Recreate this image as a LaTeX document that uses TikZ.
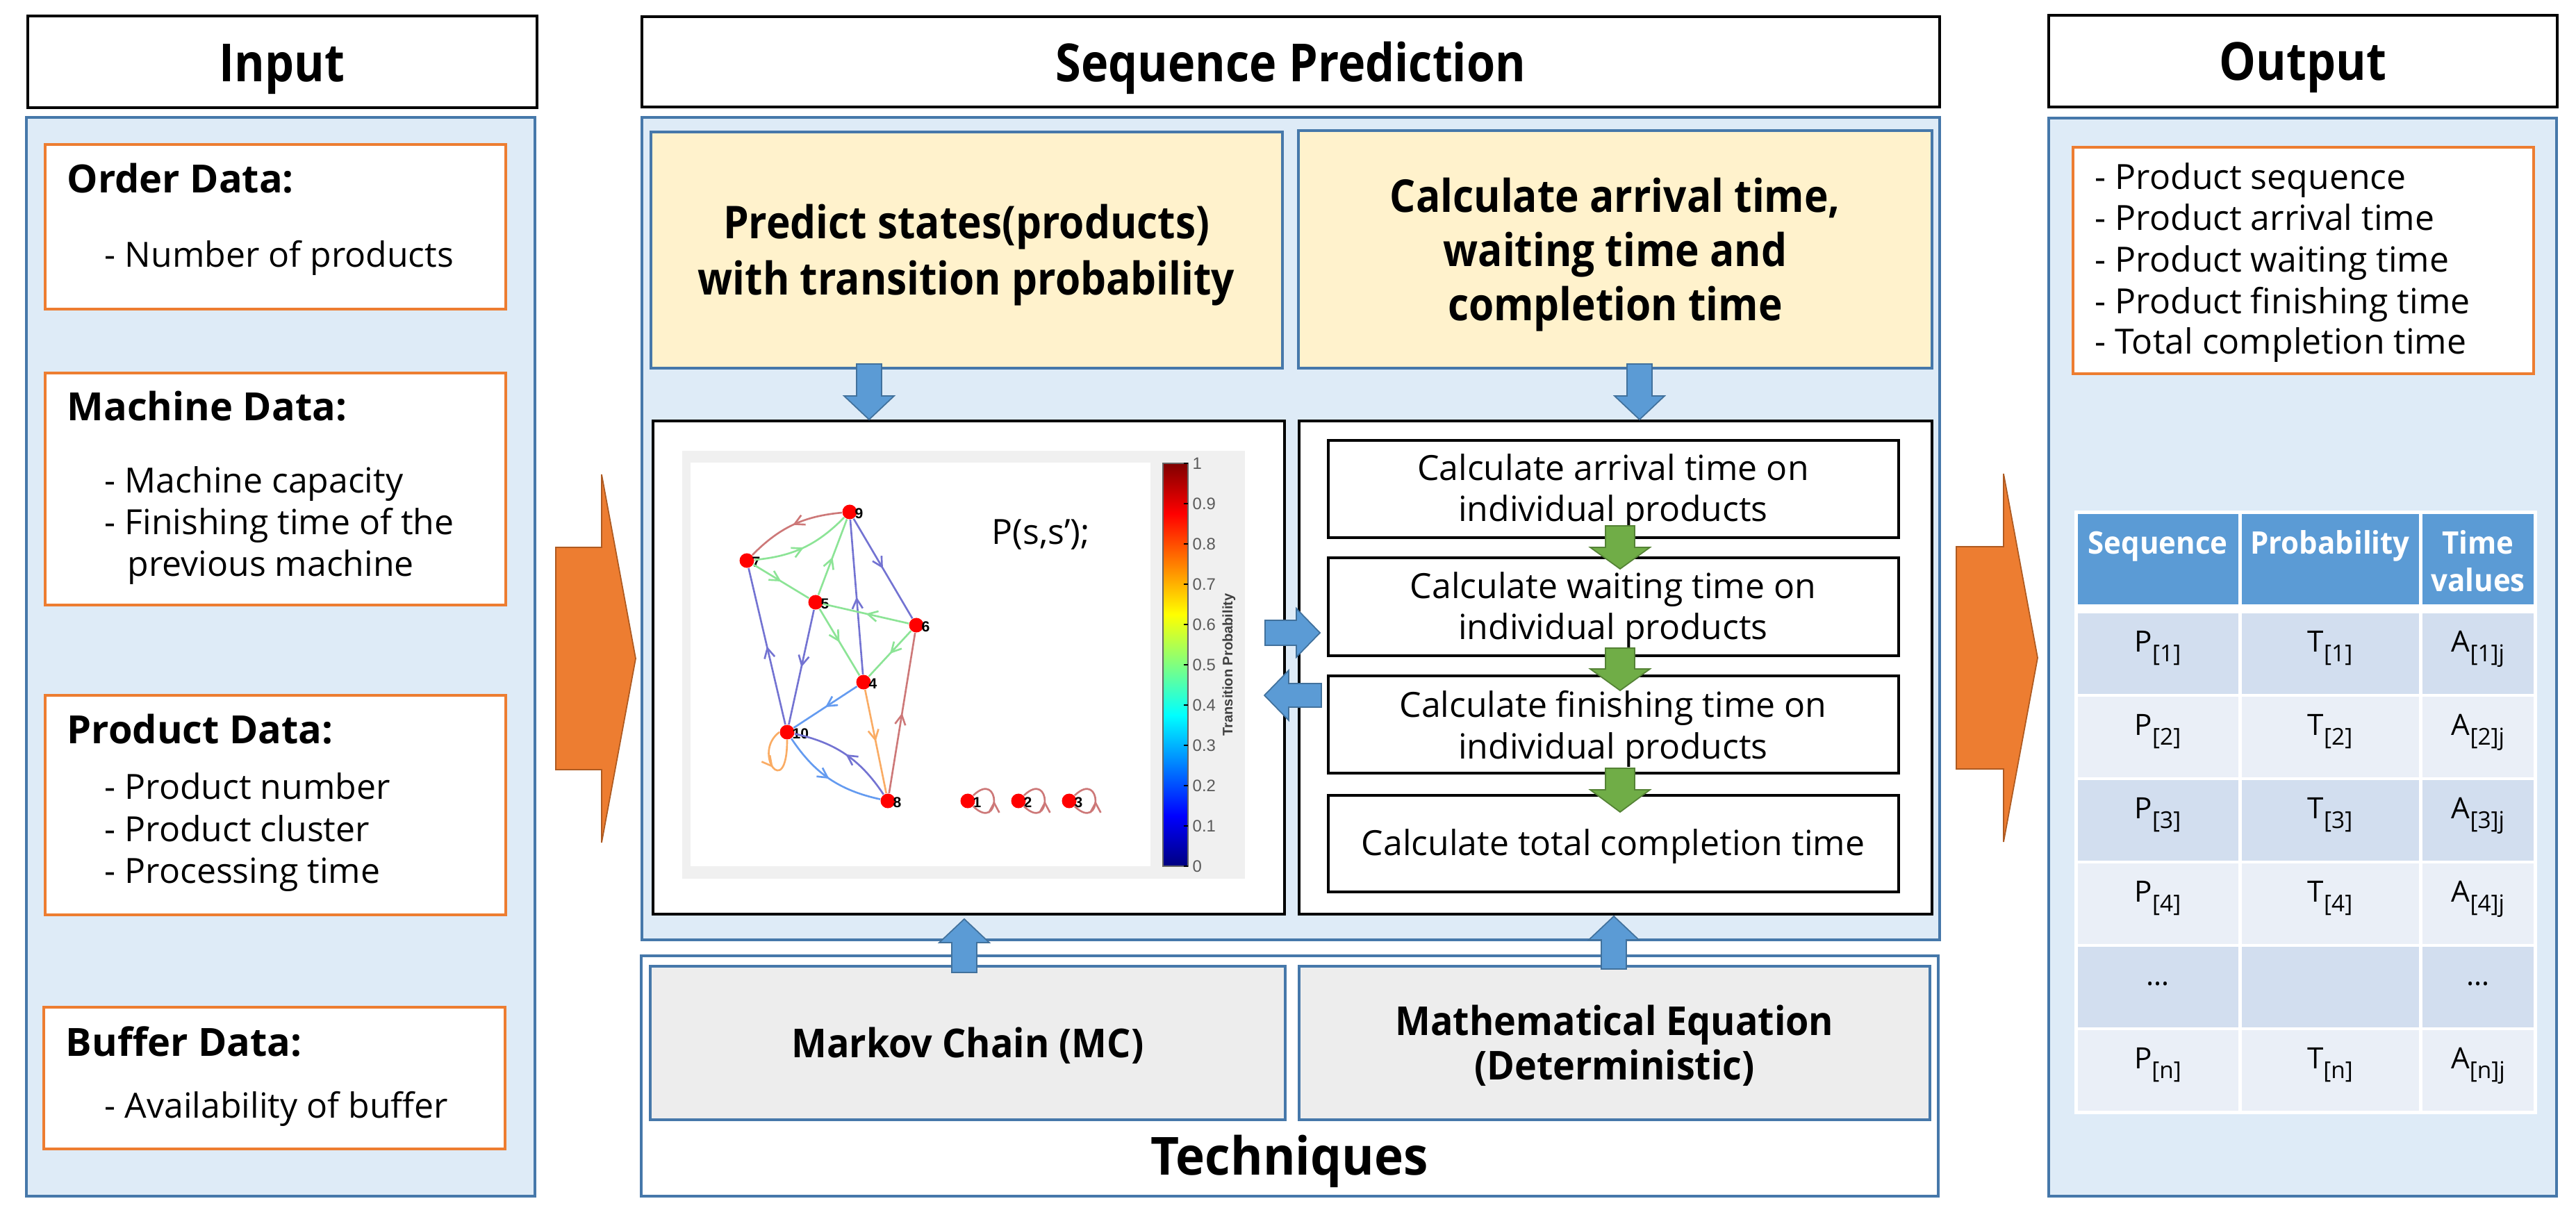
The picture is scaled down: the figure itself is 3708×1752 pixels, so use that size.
\documentclass[tikz,border=0pt]{standalone}
\usepackage{fontspec}
\setmainfont{Open Sans}
\newfontfamily\titlefont[FakeStretch=0.88]{Open Sans}
\newfontfamily\yellowfont[FakeStretch=0.9]{Open Sans}
\newfontfamily\techfont[FakeStretch=0.94]{Open Sans}
\newfontfamily\plotfont{Liberation Sans}
\usetikzlibrary{arrows.meta,decorations.markings}

\definecolor{panelfill}{RGB}{222,235,247}
\definecolor{panelline}{RGB}{70,120,170}
\definecolor{orangeline}{RGB}{237,125,49}
\definecolor{yellowfill}{RGB}{255,242,204}
\definecolor{greyfill}{RGB}{237,237,237}
\definecolor{bluearrow}{RGB}{91,155,213}
\definecolor{bluearrowline}{RGB}{65,113,156}
\definecolor{greenarrow}{RGB}{112,173,71}
\definecolor{greenarrowline}{RGB}{84,130,53}
\definecolor{orangearrow}{RGB}{237,125,49}
\definecolor{orangearrowline}{RGB}{174,90,33}
\definecolor{hdr}{RGB}{91,155,213}
\definecolor{rowdark}{RGB}{210,222,239}
\definecolor{rowlight}{RGB}{234,239,247}
\definecolor{plotgrey}{RGB}{240,240,240}
\definecolor{cbtext}{RGB}{90,90,90}
\definecolor{epurple}{RGB}{115,115,210}
\definecolor{eblue}{RGB}{100,155,240}
\definecolor{egreen}{RGB}{140,228,150}
\definecolor{eorange}{RGB}{250,172,100}
\definecolor{ered}{RGB}{205,120,120}

\pgfdeclareverticalshading{jetmap}{100bp}{rgb(0bp)=(0,0,0.5); rgb(25bp)=(0,0,0.5); rgb(31.25bp)=(0,0,1); rgb(43.75bp)=(0,1,1); rgb(56.25bp)=(1,1,0); rgb(68.75bp)=(1,0,0); rgb(75bp)=(0.5,0,0); rgb(100bp)=(0.5,0,0)}

% name, style, x1, y1, x2, y2 (pixel coords, y downward)
\newcommand{\boxat}[6]{\node[#2,inner sep=0pt,minimum width={(#5-#3)*0.01cm},minimum height={(#6-#4)*0.01cm}] (#1) at ({(#3+#5)/2},{-(#4+#6)/2}) {};}
% vertical block arrow: style, cx, half shaft, half head, tail y, head-base y, tip y
\newcommand{\varrowx}[7]{\draw[#1] ({#2-#3},{-#5}) -- ({#2+#3},{-#5}) -- ({#2+#3},{-#6}) -- ({#2+#4},{-#6}) -- (#2,{-#7}) -- ({#2-#4},{-#6}) -- ({#2-#3},{-#6}) -- cycle;}
% horizontal block arrow: style, cy, half shaft, half head, tail x, head-base x, tip x
\newcommand{\harrowx}[7]{\draw[#1] (#5,{-(#2-#3)}) -- (#6,{-(#2-#3)}) -- (#6,{-(#2-#4)}) -- (#7,{-#2}) -- (#6,{-(#2+#4)}) -- (#6,{-(#2+#3)}) -- (#5,{-(#2+#3)}) -- cycle;}
\newcommand{\tsub}[1]{\raisebox{-4.2pt}{\fontsize{9.5}{10}\selectfont #1}}

\tikzset{
 bluepanel/.style={draw=panelline, fill=panelfill, line width=0.9pt},
 wpanel/.style={draw=panelline, fill=white, line width=0.9pt},
 titlebox/.style={draw=black, fill=white, line width=1.1pt},
 obox/.style={draw=orangeline, fill=white, line width=0.9pt},
 ybox/.style={draw=panelline, fill=yellowfill, line width=0.9pt},
 kbox/.style={draw=black, fill=white, line width=1.1pt},
 kboxin/.style={draw=black, fill=white, line width=0.9pt},
 gbox/.style={draw=panelline, fill=greyfill, line width=0.9pt},
 bluearr/.style={fill=bluearrow, draw=bluearrowline, line width=0.5pt},
 greenarr/.style={fill=greenarrow, draw=greenarrowline, line width=0.5pt},
 bigorange/.style={fill=orangearrow, draw=orangearrowline, line width=0.5pt},
 titletext/.style={font=\titlefont\bfseries\fontsize{21.5}{26}\selectfont, anchor=base, inner sep=0pt},
 ytext/.style={font=\yellowfont\bfseries\fontsize{18.5}{22}\selectfont, anchor=base, inner sep=0pt},
 hdtext/.style={font=\bfseries\fontsize{15.9}{19}\selectfont, anchor=base west, inner sep=0pt},
 body/.style={font=\fontsize{14.2}{17}\selectfont, anchor=base west, inner sep=0pt},
 bodyc/.style={font=\fontsize{14.2}{17}\selectfont, anchor=base, inner sep=0pt},
 techtext/.style={font=\techfont\bfseries\fontsize{16.3}{20}\selectfont, anchor=base, inner sep=0pt},
 techtitle/.style={font=\techfont\bfseries\fontsize{21.5}{26}\selectfont, anchor=base, inner sep=0pt},
 hdrtext/.style={font=\techfont\bfseries\fontsize{12.7}{15}\selectfont, text=white, anchor=base, inner sep=0pt},
 celltext/.style={font=\fontsize{12}{14}\selectfont, anchor=base, inner sep=0pt},
 gnode/.style={circle, fill=red, inner sep=0pt, minimum size=0.21cm},
 glabel/.style={font=\plotfont\bfseries\fontsize{6}{6}\selectfont, anchor=west, inner sep=0pt},
 cblabel/.style={font=\plotfont\fontsize{6.8}{7}\selectfont, text=cbtext, anchor=west, inner sep=0pt},
 gedge/.style={line width=0.75pt, draw=#1, postaction={decorate},
   decoration={markings, mark=at position 0.5 with {\arrow{Straight Barb[length=1.4mm,width=1.5mm]}}}},
}

\begin{document}
\begin{tikzpicture}[x=0.01cm,y=0.01cm]
\useasboundingbox (0,0) rectangle (3708,-1752);
\fill[white] (0,0) rectangle (3708,-1752);

% ---------- panels ----------
\boxat{inpanel}{bluepanel}{38}{169}{770}{1722}
\boxat{seqpanel}{bluepanel}{924}{169}{2792}{1353}
\boxat{outpanel}{bluepanel}{2949}{170}{3680}{1722}
\boxat{techpanel}{wpanel}{923}{1376}{2790}{1722}

% ---------- title boxes ----------
\boxat{intitle}{titlebox}{40}{23}{773}{155}
\boxat{seqtitle}{titlebox}{924}{24}{2792}{154}
\boxat{outtitle}{titlebox}{2949}{22}{3681}{154}
\node[titletext] (intitletxt) at (406,-118) {Input};
\node[titletext] (seqtitletxt) at (1858,-118) {Sequence Prediction};
\node[titletext] (outtitletxt) at (3315,-116) {Output};

% ---------- input boxes ----------
\boxat{orderbox}{obox}{65}{208}{728}{445}
\boxat{machbox}{obox}{65}{537}{728}{871}
\boxat{prodbox}{obox}{65}{1001}{728}{1317}
\boxat{bufbox}{obox}{63}{1450}{727}{1654}
\node[hdtext] (tord) at (96,-278) {Order Data:};
\node[body] (tord1) at (150,-385) {- Number of products};
\node[hdtext] (tmach) at (96,-606) {Machine Data:};
\node[body] (tmach1) at (150,-709) {- Machine capacity};
\node[body] (tmach2) at (150,-769) {- Finishing time of the};
\node[body] (tmach3) at (183,-829) {previous machine};
\node[hdtext] (tprod) at (96,-1070) {Product Data:};
\node[body] (tprod1) at (150,-1150) {- Product number};
\node[body] (tprod2) at (150,-1211) {- Product cluster};
\node[body] (tprod3) at (150,-1271) {- Processing time};
\node[hdtext] (tbuf) at (94,-1520) {Buffer Data:};
\node[body] (tbuf1) at (150,-1609) {- Availability of buffer};

% ---------- sequence prediction ----------
\boxat{ybox1}{ybox}{937}{190}{1846}{530}
\boxat{ybox2}{ybox}{1869}{188}{2781}{530}
\node[ytext] (y1a) at (1391,-344) {Predict states(products)};
\node[ytext] (y1b) at (1391,-425) {with transition probability};
\node[ytext] (y2a) at (2325,-306) {Calculate arrival time,};
\node[ytext] (y2b) at (2325,-384) {waiting time and};
\node[ytext] (y2c) at (2325,-462) {completion time};

\boxat{graphbox}{kbox}{940}{606}{1849}{1316}
\boxat{calcbox}{kbox}{1870}{606}{2781}{1316}

% plot
\fill[plotgrey] (982,-649) rectangle (1792,-1265);
\fill[white] (994,-666) rectangle (1656,-1247);
\shade[shading=jetmap] (1674,-667) rectangle (1710,-1247);
\draw[black!60,line width=0.3pt] (1674,-667) rectangle (1710,-1247);
\foreach \i in {0,...,10} {
  \pgfmathsetmacro\yy{-1247+\i*58}
  \ifnum\i=0 \def\lab{0}\else\ifnum\i=10 \def\lab{1}\else\edef\lab{0.\i}\fi\fi
  \node[cblabel] (cb\i) at (1716,\yy) {\lab};
  \draw[black,line width=0.3pt] (1704,\yy) -- (1710,\yy);
}
\node[font=\plotfont\bfseries\fontsize{5.7}{6}\selectfont, text=black!75, rotate=90, inner sep=0pt] (cbtitle) at (1769,-957) {Transition Probability};
\node[body] (pss) at (1427,-783) {P(s,s’);};

% graph nodes
\node[gnode] (g9) at (1223,-737) {};
\node[gnode] (g7) at (1075,-807) {};
\node[gnode] (g5) at (1174,-867) {};
\node[gnode] (g6) at (1319,-900) {};
\node[gnode] (g4) at (1243,-982) {};
\node[gnode] (g10) at (1133,-1054) {};
\node[gnode] (g8) at (1278,-1153) {};
\node[gnode] (g1) at (1393,-1153) {};
\node[gnode] (g2) at (1466,-1153) {};
\node[gnode] (g3) at (1539,-1153) {};
\foreach \n in {9,7,5,6,4,10,8,1,2,3} {
  \node[glabel] (lab\n) at ([xshift=0.07cm,yshift=-0.02cm]g\n.center) {\n};
}
% graph edges
\draw[gedge=ered] (g9) to[bend right=20] (g7);
\draw[gedge=egreen] (g7) to[bend right=20] (g9);
\draw[gedge=egreen] (g7) -- (g5);
\draw[gedge=egreen] (g5) -- (g9);
\draw[gedge=epurple] (g4) -- (g9);
\draw[gedge=epurple] (g9) -- (g6);
\draw[gedge=egreen] (g6) -- (g5);
\draw[gedge=egreen] (g5) -- (g4);
\draw[gedge=egreen] (g6) -- (g4);
\draw[gedge=epurple] (g5) -- (g10);
\draw[gedge=epurple] (g10) -- (g7);
\draw[gedge=eblue] (g4) -- (g10);
\draw[gedge=eorange] (g4) -- (g8);
\draw[gedge=ered] (g8) -- (g6);
\draw[gedge=eblue] (g10) to[bend right=22] (g8);
\draw[gedge=epurple] (g8) to[bend right=22] (g10);
\draw[gedge=eorange] (g10.west) .. controls +(-40,-30) and +(0,-90) .. (g10.south);
\foreach \n in {1,2,3} {
  \draw[gedge=ered] (g\n.south east) .. controls +(40,-38) and +(40,38) .. (g\n.north east);
}

% calc boxes
\boxat{c1}{kboxin}{1912}{634}{2733}{774}
\boxat{c2}{kboxin}{1912}{803}{2733}{944}
\boxat{c3}{kboxin}{1912}{973}{2733}{1113}
\boxat{c4}{kboxin}{1912}{1145}{2733}{1284}
\node[bodyc] (c1a) at (2322,-692) {Calculate arrival time on};
\node[bodyc] (c1b) at (2322,-750) {individual products};
\node[bodyc] (c2a) at (2322,-861) {Calculate waiting time on};
\node[bodyc] (c2b) at (2322,-920) {individual products};
\node[bodyc] (c3a) at (2322,-1032) {Calculate finishing time on};
\node[bodyc] (c3b) at (2322,-1092) {individual products};
\node[bodyc] (c4a) at (2322,-1231) {Calculate total completion time};
\varrowx{greenarr}{2332}{21}{43}{757}{788}{819}
\varrowx{greenarr}{2332}{21}{43}{933}{963}{994}
\varrowx{greenarr}{2332}{21}{43}{1106}{1137}{1169}

% blue arrows
\varrowx{bluearr}{1251}{18}{36}{524}{570}{604}
\varrowx{bluearr}{2360}{18}{36}{524}{570}{604}
\harrowx{bluearr}{911}{18}{35}{1821}{1866}{1900}
\harrowx{bluearr}{1001}{17}{36}{1902}{1855}{1820}

% ---------- techniques ----------
\boxat{mcbox}{gbox}{936}{1391}{1850}{1612}
\boxat{mebox}{gbox}{1870}{1391}{2778}{1612}
\node[techtext] (mctxt) at (1393,-1522) {Markov Chain (MC)};
\node[techtext] (me1) at (2324,-1490) {Mathematical Equation};
\node[techtext] (me2) at (2324,-1554) {(Deterministic)};
\node[techtitle] (techtxt) at (1856,-1691) {Techniques};
\varrowx{bluearr}{1388}{18}{36}{1400}{1357}{1323}
\varrowx{bluearr}{2323}{18}{36}{1395}{1353}{1319}

% ---------- big orange arrows ----------
\harrowx{bigorange}{948}{160}{265}{800}{866}{915}
\harrowx{bigorange}{947}{160}{265}{2816}{2884}{2933}

% ---------- output ----------
\boxat{outlist}{obox}{2984}{212}{3647}{538}
\node[body] (o1) at (3015,-273) {- Product sequence};
\node[body] (o2) at (3015,-332) {- Product arrival time};
\node[body] (o3) at (3015,-392) {- Product waiting time};
\node[body] (o4) at (3015,-452) {- Product finishing time};
\node[body] (o5) at (3015,-510) {- Total completion time};

% table
\fill[white] (2986,-735) rectangle (3652,-1604);
\fill[hdr] (2991,-740) rectangle (3222,-870);
\fill[hdr] (3227,-740) rectangle (3482,-870);
\fill[hdr] (3487,-740) rectangle (3647,-870);
\node[hdrtext] (h1) at (3106,-797) {Sequence};
\node[hdrtext] (h2) at (3354,-797) {Probability};
\node[hdrtext] (h3a) at (3567,-797) {Time};
\node[hdrtext] (h3b) at (3567,-851) {values};
\foreach \r in {1,...,6} {
  \pgfmathsetmacro\ytop{-883-(\r-1)*120}
  \pgfmathsetmacro\ybot{\ytop-116}
  \ifodd\r \def\rc{rowdark}\else\def\rc{rowlight}\fi
  \fill[\rc] (2991,\ytop) rectangle (3222,\ybot);
  \fill[\rc] (3227,\ytop) rectangle (3482,\ybot);
  \fill[\rc] (3487,\ytop) rectangle (3647,\ybot);
}
\foreach \r/\s in {1/1,2/2,3/3,4/4,6/n} {
  \pgfmathsetmacro\yb{-883-(\r-1)*120-55}
  \node[celltext] (p\r) at (3106,\yb) {P\tsub{[\s]}};
  \node[celltext] (t\r) at (3354,\yb) {T\tsub{[\s]}};
  \node[celltext] (a\r) at (3567,\yb) {A\tsub{[\s]j}};
}
\node[celltext] (p5) at (3106,-1418) {…};
\node[celltext] (a5) at (3567,-1418) {…};
\end{tikzpicture}
\end{document}
